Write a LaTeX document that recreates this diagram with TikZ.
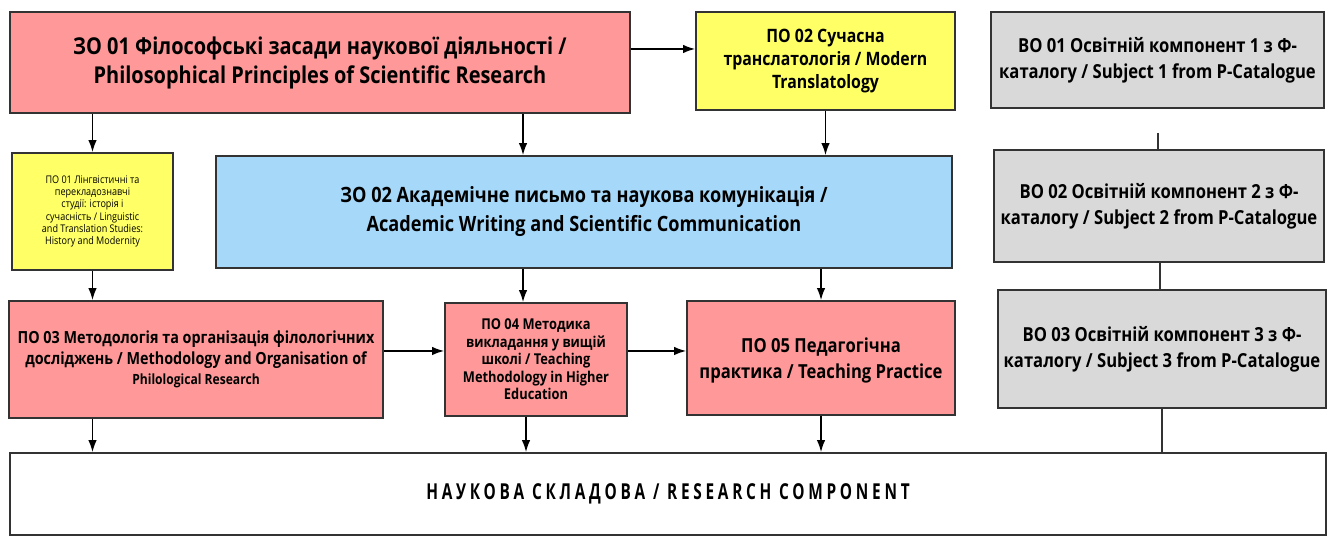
\documentclass[tikz,border=0pt]{standalone}
\usepackage{fontspec}
\setmainfont{Open Sans}[FakeStretch=0.86]
\newfontfamily\rescomp{Open Sans}[FakeStretch=0.7,LetterSpace=17]
\usepackage{tikz}
\usetikzlibrary{arrows.meta}
\definecolor{zopink}{RGB}{255,153,153}
\definecolor{poyellow}{RGB}{255,255,102}
\definecolor{zoblue}{RGB}{166,217,249}
\definecolor{vogray}{RGB}{217,217,217}
\definecolor{edge}{RGB}{51,51,51}
\tikzset{
  box/.style={draw=edge,line width=1pt,align=center,inner sep=2pt},
  pink/.style={box,fill=zopink},
  yellow/.style={box,fill=poyellow},
  blue/.style={box,fill=zoblue},
  gray/.style={box,fill=vogray},
  link/.style={line width=0.85pt,-{Latex[length=2.4mm,width=1.7mm]}},
  plain/.style={line width=0.85pt,draw=edge}
}

\begin{document}
\begin{tikzpicture}
  \useasboundingbox (0,0) rectangle (26.68,10.78);

  \node[pink,minimum width=12.4cm,minimum height=2.02cm,font=\bfseries\fontsize{13.2}{16.5}\selectfont] (zo1) at (6.40,9.53)
    {ЗО 01 Філософські засади наукової діяльності /\\Philosophical Principles of Scientific Research};
  \node[yellow,minimum width=5.18cm,minimum height=1.96cm,font=\bfseries\fontsize{10.5}{13}\selectfont] (po2) at (16.51,9.56)
    {ПО 02 Сучасна\\транслатологія / Modern\\Translatology};
  \node[gray,minimum width=6.66cm,minimum height=1.92cm,font=\bfseries\fontsize{11}{15}\selectfont] (vo1) at (23.15,9.58)
    {ВО 01 Освітній компонент 1 з Ф-\\каталогу / Subject 1 from P-Catalogue};

  \node[yellow,minimum width=3.22cm,minimum height=2.34cm,font=\fontsize{6}{7}\selectfont] (po1) at (1.85,6.55)
    {ПО 01 Лінгвістичні та\\перекладознавчі\\студії: історія і\\сучасність / Linguistic\\and Translation Studies:\\History and Modernity};
  \node[blue,minimum width=14.72cm,minimum height=2.24cm,font=\bfseries\fontsize{12}{16.5}\selectfont] (zo2) at (11.68,6.54)
    {ЗО 02 Академічне письмо та наукова комунікація /\\Academic Writing and Scientific Communication};
  \node[gray,minimum width=6.6cm,minimum height=2.24cm,font=\bfseries\fontsize{11}{15}\selectfont] (vo2) at (23.18,6.66)
    {ВО 02 Освітній компонент 2 з Ф-\\каталогу / Subject 2 from P-Catalogue};

  \node[pink,minimum width=7.48cm,minimum height=2.34cm,font=\bfseries\fontsize{9.5}{11.5}\selectfont] (po3) at (3.92,3.59)
    {ПО 03 Методологія та організація філологічних\\досліджень / Methodology and Organisation of\\{\fontsize{8}{11.5}\selectfont Philological Research}};
  \node[pink,minimum width=3.64cm,minimum height=2.26cm,font=\bfseries\fontsize{8.5}{10}\selectfont] (po4) at (10.72,3.59)
    {ПО 04 Методика\\викладання у вищій\\школі / Teaching\\Methodology in Higher\\Education};
  \node[pink,minimum width=5.36cm,minimum height=2.28cm,font=\bfseries\fontsize{11}{15}\selectfont] (po5) at (16.42,3.62)
    {\\[-4pt]ПО 05 Педагогічна\\практика / Teaching Practice};
  \node[gray,minimum width=6.56cm,minimum height=2.36cm,font=\bfseries\fontsize{11}{15}\selectfont] (vo3) at (23.24,3.80)
    {ВО 03 Освітній компонент 3 з Ф-\\каталогу / Subject 3 from P-Catalogue};

  \node[box,fill=white,minimum width=26.32cm,minimum height=1.64cm,font=\rescomp\bfseries\fontsize{12.5}{15}\selectfont] (res) at (13.36,0.90)
    {НАУКОВА СКЛАДОВА / RESEARCH COMPONENT};

  \coordinate (vtop) at (23.16,8.12);

  \draw[link] ([yshift=0.27cm]zo1.east) -- ([yshift=0.27cm]zo1.east -| po2.west);
  \draw[link] (zo1.south -| po1.north) -- (po1.north);
  \draw[link] (zo1.south -| 10.46,0) -- (zo2.north -| 10.46,0);
  \draw[link] (po2.south) -- (po2.south |- zo2.north);
  \draw[link] (po1.south) -- (po1.south |- po3.north);
  \draw[link] (zo2.south -| 10.46,0) -- (po4.north -| 10.46,0);
  \draw[link] (zo2.south -| po5.north) -- (po5.north);
  \draw[link] ([yshift=0.17cm]po3.east) -- ([yshift=0.17cm]po3.east -| po4.west);
  \draw[link] ([yshift=0.17cm]po4.east) -- ([yshift=0.17cm]po4.east -| po5.west);
  \draw[link] (po3.south -| po1.south) -- (res.north -| po1.south);
  \draw[link] (po4.south -| 10.52,0) -- (res.north -| 10.52,0);
  \draw[link] (po5.south) -- (po5.south |- res.north);

  \draw[plain] (vtop) -- (vtop |- vo2.north);
  \draw[plain] (vo2.south -| 23.20,0) -- (vo3.north -| 23.20,0);
  \draw[plain] (vo3.south) -- (vo3.south |- res.north);
\end{tikzpicture}
\end{document}
